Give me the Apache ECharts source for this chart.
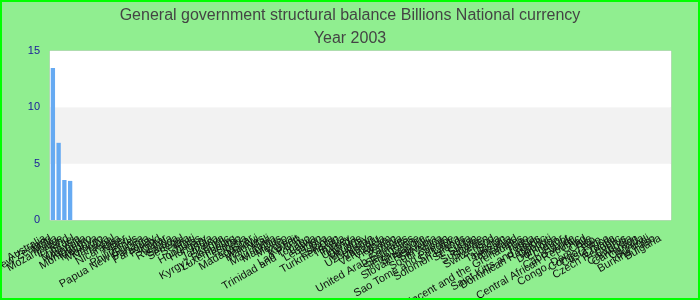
<!DOCTYPE html>
<html>
<head>
<meta charset="utf-8">
<script src="https://cdn.jsdelivr.net/npm/echarts@6/dist/echarts.min.js"></script>
<style>
html,body{margin:0;padding:0;background:#90EE90;}
#chart{width:700px;height:300px;}
</style>
</head>
<body>
<div id="chart"></div>
<script>
const titleText = "General government structural balance Billions National currency";
const subtitleText = "Year 2003";
const countries = [
  "Australia","New Zealand","Malta","Mozambique","Iceland","Israel","Malaysia","Mongolia",
  "Montenegro","Moldova","Morocco","Namibia","Nepal","Nicaragua","Niger","Peru",
  "Philippines","Papua New Guinea","Panama","Paraguay","Poland","Qatar","Rwanda","Samoa",
  "Senegal","Serbia","Haiti","Honduras","Hungary","India","Jamaica","Kenya",
  "Kyrgyz Republic","Luxembourg","Lesotho","Liberia","Madagascar","Malawi","Maldives","Mali",
  "Mauritania","Mauritius","Mexico","Korea","Kuwait","Lao P.D.R.","Trinidad and Tobago","Latvia",
  "Lebanon","Libya","Estonia","Turkmenistan","Tunisia","Turkey","Uganda","Ukraine",
  "Uruguay","Uzbekistan","Vanuatu","Venezuela","Vietnam","Yemen","Zambia","United Arab Emirates",
  "Seychelles","Sierra Leone","Singapore","Slovak Republic","Slovenia","South Africa","Spain","Sao Tome and Principe",
  "Sri Lanka","Solomon Islands","St. Lucia","Sudan","Suriname","Sweden","Switzerland","Syria",
  "Tajikistan","Tanzania","Thailand","Saint Vincent and the Grenadines","Togo","Tonga","Saint Kitts and Nevis","Dominican Republic",
  "Djibouti","Dominica","Ecuador","Egypt","Cabo Verde","Central African Republic","Chad","Chile",
  "Congo, Dem. Rep.","Congo, Rep.","Costa Rica","Croatia","Czech Republic","Cyprus","Cambodia","Cameroon",
  "Canada","Burundi","Burkina Faso","Bulgaria"
];
const values = [
  13.5, 6.85, 3.55, 3.47, 0, 0, 0, 0,
  0, 0, 0, 0, 0, 0, 0, 0,
  0, 0, 0, 0, 0, 0, 0, 0,
  0, 0, 0, 0, 0, 0, 0, 0,
  0, 0, 0, 0, 0, 0, 0, 0,
  0, 0, 0, 0, 0, 0, 0, 0,
  0, 0, 0, 0, 0, 0, 0, 0,
  0, 0, 0, 0, 0, 0, 0, 0,
  0, 0, 0, 0, 0, 0, 0, 0,
  0, 0, 0, 0, 0, 0, 0, 0,
  0, 0, 0, 0, 0, 0, 0, 0,
  0, 0, 0, 0, 0, 0, 0, 0,
  0, 0, 0, 0, 0, 0, 0, 0,
  0, 0, 0, 0
];
const yMin = 0, yMax = 15, yStep = 5;

const chart = echarts.init(document.getElementById('chart'), null, {renderer:'canvas'});
chart.setOption({
  backgroundColor: '#90EE90',
  animation: false,
  title: [
    {text: titleText, left: 'center', top: 3,
     textStyle: {fontFamily: 'Liberation Sans', fontSize: 16, fontWeight: 'normal', color: '#444'}},
    {text: subtitleText, left: 'center', top: 26,
     textStyle: {fontFamily: 'Liberation Sans', fontSize: 16, fontWeight: 'normal', color: '#444'}}
  ],
  graphic: [{
    type: 'rect', silent: true, z: 100,
    shape: {x: 1, y: 1, width: 698, height: 298},
    style: {fill: 'none', stroke: '#00ff00', lineWidth: 2}
  }],
  grid: {left: 50, right: 29, top: 51, bottom: 80, containLabel: false, outerBoundsMode: 'none',
         show: true, borderColor: '#ccc', borderWidth: 1, backgroundColor: '#fff'},
  xAxis: {
    type: 'category', data: countries,
    axisTick: {show: false}, axisLine: {show: false},
    axisLabel: {interval: 0, rotate: 30, fontSize: 11, color: '#111', margin: 13,
                padding: [0, 9, 0, 0], fontFamily: 'Liberation Sans'}
  },
  yAxis: {
    type: 'value', min: yMin, max: yMax, interval: yStep,
    axisLine: {show: false}, axisTick: {show: false},
    splitLine: {show: false},
    splitArea: {show: true, areaStyle: {color: ['#ffffff', '#f2f2f2']}},
    axisLabel: {color: '#1a1a9a', fontSize: 11, margin: 10, fontFamily: 'Liberation Sans'}
  },
  series: [{
    type: 'bar', data: values, barCategoryGap: '25%',
    itemStyle: {color: '#66aaf2'}
  }]
});
</script>
</body>
</html>
